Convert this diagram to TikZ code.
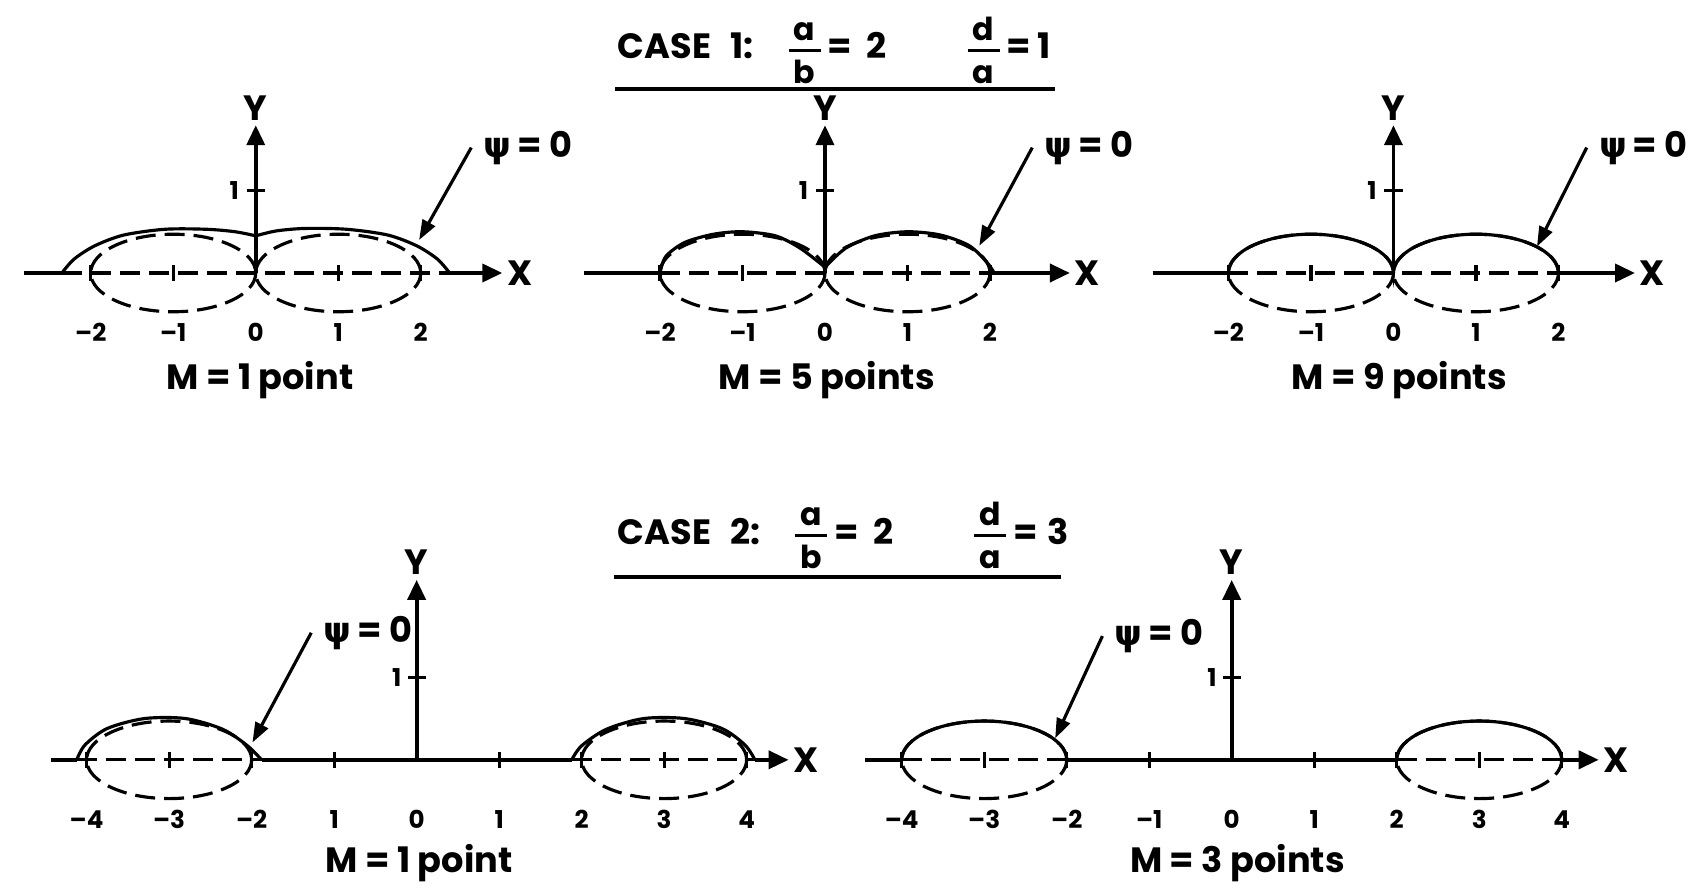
\documentclass[tikz,border=0pt]{standalone}
\usepackage{amsmath}
\usepackage{fontspec}
\setmainfont{Poppins}
\newfontfamily\greekfont{DejaVu Sans}
\usetikzlibrary{arrows.meta,positioning}
\tikzset{
  axisline/.style={line width=1.1pt},
  axisarrow/.style={line width=1.1pt,-{Triangle[length=2mm,width=1.8mm]}},
  solidcurve/.style={line width=0.9pt},
  dashcurve/.style={line width=0.9pt,dash pattern=on 2mm off 0.9mm},
  pointer/.style={line width=0.9pt,-{Triangle[length=2mm,width=1.4mm]}},
  ticklab/.style={font=\bfseries\scriptsize,inner sep=0pt},
  axlab/.style={font=\bfseries\normalsize,inner sep=1.2pt},
  mlabel/.style={font=\bfseries\normalsize},
  titlerule/.style={line width=1.2pt},
}
\newcommand{\psilab}{{\greekfont\bfseries ψ}\,= 0}
\newcommand{\ratio}[2]{$\genfrac{}{}{0.8pt}{0}{\raisebox{-1.5pt}{\small\bfseries\,#1\,}}{\text{\small\bfseries\,#2\,}}$}

\begin{document}
\begin{tikzpicture}[x=0.825cm,y=0.825cm]
\useasboundingbox (0,0) rectangle (20.57,10.715);

% case titles
\node[mlabel,anchor=base west,inner sep=0pt] (case1) at (7.48,10.0) {CASE\hspace{1.9mm}1:\hspace{3.1mm}\ratio{a}{b}\hspace{0.3mm}=\hspace{1.4mm}2\hspace{7.7mm}\ratio{d}{a}\hspace{0.3mm}=\hspace{0.6mm}1};
\coordinate (rule1a) at (7.46,9.64);
\coordinate (rule1b) at (12.79,9.64);
\draw[titlerule] (rule1a) -- (rule1b);
\node[mlabel,anchor=base west,inner sep=0pt] (case2) at (7.48,4.12) {CASE\hspace{1.9mm}2:\hspace{3.1mm}\ratio{a}{b}\hspace{0.3mm}=\hspace{1.4mm}2\hspace{7.7mm}\ratio{d}{a}\hspace{0.3mm}=\hspace{0.9mm}3};
\coordinate (rule2a) at (7.44,3.72);
\coordinate (rule2b) at (12.86,3.72);
\draw[titlerule] (rule2a) -- (rule2b);

% panel 1: M = 1 point
\begin{scope}[shift={(3.10,7.406)}]
  \coordinate (p1o) at (0,0);
  \coordinate (p1l) at (-2.81,0);
  \coordinate (p1a) at (-2.35,0);
  \coordinate (p1b) at (2.35,0);
  \node[axlab] (p1x) at (3.20,0) {X};
  \node[axlab] (p1y) at (0,2.0) {Y};
  \draw[dashcurve] (-1,0) ellipse [x radius=1,y radius=0.47];
  \draw[dashcurve] (1,0) ellipse [x radius=1,y radius=0.47];
  \draw[dashcurve] (p1a) -- (p1b);
  \draw[axisline] (p1l) -- (p1a);
  \draw[axisarrow] (p1b) -- (p1x);
  \draw[axisarrow] (p1o) -- (p1y);
  \draw[solidcurve] plot[smooth] coordinates {(-2.35,0) (-2.2,0.17) (-1.95,0.33) (-1.6,0.46) (-1.1,0.53) (-0.6,0.53) (-0.25,0.5) (0,0.45)};
  \draw[solidcurve] plot[smooth] coordinates {(0,0.45) (0.25,0.51) (0.6,0.54) (1.1,0.53) (1.6,0.46) (1.95,0.33) (2.2,0.17) (2.35,0)};
  \foreach \t in {-2,-1,1,2}
    \draw[solidcurve] (\t,-0.1) -- (\t,0.1);
  \draw[solidcurve] (-0.11,1) -- (0.11,1);
  \node[ticklab] (p1one) at (-0.26,1) {1};
  \foreach \t/\lab [count=\i] in {-2/--2,-1/--1,0/0,1/1,2/2}
    \node[ticklab] (p1t\i) at (\t,-0.72) {\lab};
  \node[mlabel] (p1m) at (0.05,-1.3) {M = 1 point};
  \node[mlabel] (p1psi) at (3.30,1.52) {\psilab};
  \coordinate (p1e) at (1.98,0.40);
  \draw[pointer] (p1psi.west) -- (p1e);
\end{scope}

% panel 2: M = 5 points
\begin{scope}[shift={(10.00,7.406)}]
  \coordinate (p2o) at (0,0);
  \coordinate (p2l) at (-2.92,0);
  \coordinate (p2a) at (-2,0);
  \coordinate (p2b) at (2.05,0);
  \node[axlab] (p2x) at (3.18,0) {X};
  \node[axlab] (p2y) at (0,2.0) {Y};
  \draw[dashcurve] (-1,0) ellipse [x radius=1,y radius=0.47];
  \draw[dashcurve] (1,0) ellipse [x radius=1,y radius=0.47];
  \draw[dashcurve] (p2a) -- (p2b);
  \draw[axisline] (p2l) -- (p2a);
  \draw[axisarrow] (p2b) -- (p2x);
  \draw[axisarrow] (p2o) -- (p2y);
  \draw[solidcurve] plot[smooth] coordinates {(-2,0) (-1.93,0.2) (-1.7,0.37) (-1.35,0.47) (-1,0.5) (-0.6,0.45) (-0.3,0.3) (0,0.07)};
  \draw[solidcurve] plot[smooth] coordinates {(0,0.07) (0.25,0.3) (0.6,0.45) (1,0.5) (1.4,0.46) (1.75,0.33) (1.97,0.12) (2.05,0)};
  \foreach \t in {-2,-1,1,2}
    \draw[solidcurve] (\t,-0.1) -- (\t,0.1);
  \draw[solidcurve] (-0.11,1) -- (0.11,1);
  \node[ticklab] (p2one) at (-0.26,1) {1};
  \foreach \t/\lab [count=\i] in {-2/--2,-1/--1,0/0,1/1,2/2}
    \node[ticklab] (p2t\i) at (\t,-0.72) {\lab};
  \node[mlabel] (p2m) at (0.02,-1.3) {M = 5 points};
  \node[mlabel] (p2psi) at (3.20,1.52) {\psilab};
  \coordinate (p2e) at (1.87,0.33);
  \draw[pointer] (p2psi.west) -- (p2e);
\end{scope}

% panel 3: M = 9 points
\begin{scope}[shift={(16.89,7.406)}]
  \coordinate (p3o) at (0,0);
  \coordinate (p3l) at (-2.92,0);
  \coordinate (p3a) at (-2,0);
  \coordinate (p3b) at (2,0);
  \node[axlab] (p3x) at (3.14,0) {X};
  \node[axlab] (p3y) at (0,2.0) {Y};
  \draw[dashcurve] (-1,0) ellipse [x radius=1,y radius=0.47];
  \draw[dashcurve] (1,0) ellipse [x radius=1,y radius=0.47];
  \draw[dashcurve] (p3a) -- (p3b);
  \draw[axisline] (p3l) -- (p3a);
  \draw[axisarrow] (p3b) -- (p3x);
  \draw[axisarrow] (p3o) -- (p3y);
  \draw[solidcurve] (p3a) arc[start angle=180,end angle=0,x radius=1,y radius=0.47]
    arc[start angle=180,end angle=0,x radius=1,y radius=0.47];
  \foreach \t in {-2,-1,1,2}
    \draw[solidcurve] (\t,-0.1) -- (\t,0.1);
  \draw[solidcurve] (-0.11,1) -- (0.11,1);
  \node[ticklab] (p3one) at (-0.26,1) {1};
  \foreach \t/\lab [count=\i] in {-2/--2,-1/--1,0/0,1/1,2/2}
    \node[ticklab] (p3t\i) at (\t,-0.72) {\lab};
  \node[mlabel] (p3m) at (0.07,-1.3) {M = 9 points};
  \node[mlabel] (p3psi) at (3.03,1.52) {\psilab};
  \coordinate (p3e) at (1.74,0.32);
  \draw[pointer] (p3psi.west) -- (p3e);
\end{scope}

% panel 4: M = 1 point, case 2
\begin{scope}[shift={(5.05,1.505)}]
  \coordinate (p4o) at (0,0);
  \coordinate (p4l) at (-4.43,0);
  \coordinate (p4a) at (-4.12,0);
  \coordinate (p4b) at (-1.88,0);
  \coordinate (p4c) at (1.88,0);
  \coordinate (p4d) at (4.1,0);
  \node[axlab] (p4x) at (4.72,0) {X};
  \node[axlab] (p4y) at (0,2.39) {Y};
  \draw[dashcurve] (-3,0) ellipse [x radius=1,y radius=0.47];
  \draw[dashcurve] (3,0) ellipse [x radius=1,y radius=0.47];
  \draw[dashcurve] (p4a) -- (p4b);
  \draw[dashcurve] (p4c) -- (p4d);
  \draw[axisline] (p4l) -- (p4a);
  \draw[axisline] (p4b) -- (p4c);
  \draw[axisarrow] (p4d) -- (p4x);
  \draw[axisarrow] (p4o) -- (p4y);
  \draw[solidcurve] plot[smooth] coordinates {(-4.12,0) (-4.02,0.18) (-3.75,0.38) (-3.3,0.5) (-2.8,0.5) (-2.35,0.37) (-2.05,0.17) (-1.88,0)};
  \draw[solidcurve] plot[smooth] coordinates {(1.88,0) (2.0,0.17) (2.3,0.37) (2.75,0.5) (3.25,0.5) (3.7,0.38) (3.98,0.18) (4.1,0)};
  \foreach \t in {-4,-3,-2,-1,1,2,3,4}
    \draw[solidcurve] (\t,-0.1) -- (\t,0.1);
  \draw[solidcurve] (-0.11,1) -- (0.11,1);
  \node[ticklab] (p4one) at (-0.24,1) {1};
  \foreach \t/\lab [count=\i] in {-4/--4,-3/--3,-2/--2,-1/1,0/0,1/1,2/2,3/3,4/4}
    \node[ticklab] (p4t\i) at (\t,-0.72) {\lab};
  \node[mlabel] (p4m) at (0.03,-1.25) {M = 1 point};
  \node[mlabel] (p4psi) at (-0.59,1.54) {\psilab};
  \coordinate (p4e) at (-1.99,0.21);
  \draw[pointer] (p4psi.west) -- (p4e);
\end{scope}

% panel 5: M = 3 points, case 2
\begin{scope}[shift={(14.93,1.505)}]
  \coordinate (p5o) at (0,0);
  \coordinate (p5l) at (-4.44,0);
  \coordinate (p5a) at (-4,0);
  \coordinate (p5b) at (-2,0);
  \coordinate (p5c) at (2,0);
  \coordinate (p5d) at (4,0);
  \node[axlab] (p5x) at (4.66,0) {X};
  \node[axlab] (p5y) at (0,2.39) {Y};
  \draw[dashcurve] (-3,0) ellipse [x radius=1,y radius=0.47];
  \draw[dashcurve] (3,0) ellipse [x radius=1,y radius=0.47];
  \draw[dashcurve] (p5a) -- (p5b);
  \draw[dashcurve] (p5c) -- (p5d);
  \draw[axisline] (p5l) -- (p5a);
  \draw[axisline] (p5b) -- (p5c);
  \draw[axisarrow] (p5d) -- (p5x);
  \draw[axisarrow] (p5o) -- (p5y);
  \draw[solidcurve] (p5a) arc[start angle=180,end angle=0,x radius=1,y radius=0.47];
  \draw[solidcurve] (p5c) arc[start angle=180,end angle=0,x radius=1,y radius=0.47];
  \foreach \t in {-4,-3,-2,-1,1,2,3,4}
    \draw[solidcurve] (\t,-0.1) -- (\t,0.1);
  \draw[solidcurve] (-0.11,1) -- (0.11,1);
  \node[ticklab] (p5one) at (-0.24,1) {1};
  \foreach \t/\lab [count=\i] in {-4/--4,-3/--3,-2/--2,-1/--1,0/0,1/1,2/2,3/3,4/4}
    \node[ticklab] (p5t\i) at (\t,-0.72) {\lab};
  \node[mlabel] (p5m) at (0.07,-1.25) {M = 3 points};
  \node[mlabel] (p5psi) at (-0.88,1.50) {\psilab};
  \coordinate (p5e) at (-2.14,0.26);
  \draw[pointer] (p5psi.west) -- (p5e);
\end{scope}
\end{tikzpicture}
\end{document}
